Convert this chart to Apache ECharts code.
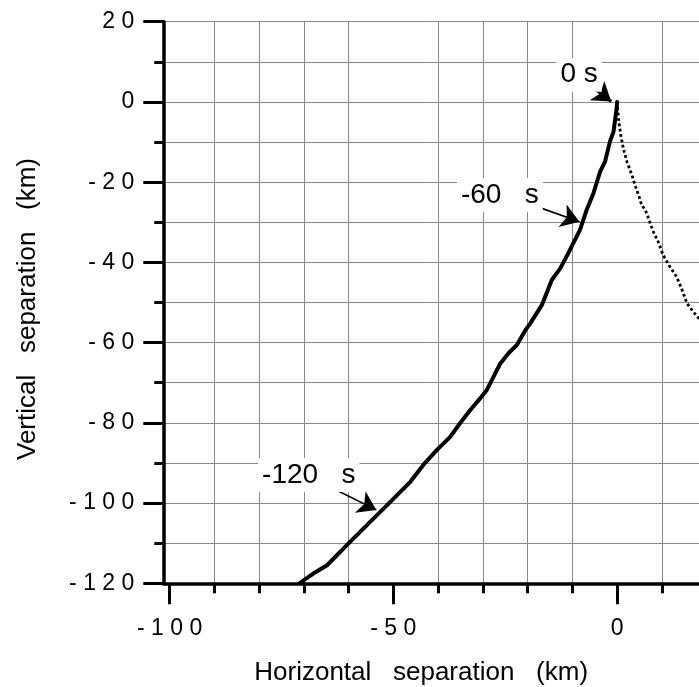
<!DOCTYPE html>
<html><head><meta charset="utf-8">
<script src="https://cdn.jsdelivr.net/npm/echarts@6/dist/echarts.min.js"></script>
<style>html,body{margin:0;padding:0;background:#fff}#c{width:699px;height:687px}</style>
</head><body><div id="c"></div>
<script>
// ---- data ----
const solidX = [-71.0,-67.8,-64.8,-60.4,-55.9,-51.4,-46.2,-43.3,-40.3,-37.3,-35.1,-32.8,-30.6,-29.1,-27.6,-26.1,-24.3,-22.4,-20.5,-19.4,-16.8,-14.6,-12.7,-10.9,-8.3,-6.8,-5.3,-3.8,-2.7,-1.6,-0.8,-0.4,-0.1,0];
const solidY = [-120.0,-117.5,-115.5,-110.5,-105.5,-100.5,-94.7,-90.5,-86.8,-83.5,-80.1,-76.8,-73.9,-71.8,-68.5,-65.2,-62.7,-60.6,-56.9,-55.2,-50.6,-44.4,-41.5,-37.7,-31.9,-26.9,-22.8,-17.4,-14.9,-9.9,-7.4,-4.1,-1.6,0];
const dottedX = [0,0.3,0.8,1.4,2.2,3.3,4.0,4.8,5.5,6.3,7.0,8.1,9.2,10.3,11.8,13.3,14.4,15.6,17.0,18.2,20.0];
const dottedY = [0,-4.1,-8.2,-11.6,-14.9,-18.2,-20.7,-23.2,-25.7,-26.9,-29.0,-32.4,-34.9,-38.2,-41.1,-43.6,-46.5,-50.2,-52.3,-53.9,-56.0];
const xRange = [-101.4, 18.3];
const yRange = [-120, 20];
const xMajorTicks = [-100, -50, 0];
const xMinorTicks = [-90, -80, -70, -60, -40, -30, -20, -10, 10];
const annoText = ['0 s', '-60   s', '-120   s'];
const annoX = [-8.5, -26.2, -68.9];
const annoY = [6.8, -23.2, -93.0];
const arrowFromX = [-4.7, -17.9, -63.0];
const arrowFromY = [3.0, -26.1, -96.6];
const arrowToX = [-1.3, -8.4, -53.8];
const arrowToY = [0.1, -29.9, -101.7];
const xTitle = 'Horizontal   separation   (km)';
const yTitle = 'Vertical   separation   (km)';

// ---- chart ----
const FONT = 'Liberation Sans, Arial, sans-serif';
const spaced = v => String(v).split('').join(' ');
const zip = (a, b) => a.map((v, i) => [v, b[i]]);
const chart = echarts.init(document.getElementById('c'), null, {renderer: 'canvas'});
const axisBase = {
  type: 'value', min: xRange[0], max: xRange[1], position: 'bottom'
};
chart.setOption({
  animation: false,
  backgroundColor: '#fff',
  grid: {left: 163.3, top: 21.7, bottom: 103.7, right: 0, containLabel: false, outerBoundsMode: 'none'},
  xAxis: [
    Object.assign({}, axisBase, {
      splitNumber: 12,
      axisLine: {show: true, onZero: false, lineStyle: {color: '#000', width: 3.5}},
      axisTick: {show: true, customValues: xMinorTicks, length: 10, lineStyle: {color: '#000', width: 3}},
      axisLabel: {show: false},
      splitLine: {show: true, lineStyle: {color: '#888', width: 1}}
    }),
    Object.assign({}, axisBase, {
      axisLine: {show: false, onZero: false},
      axisTick: {show: true, customValues: xMajorTicks, length: 21, lineStyle: {color: '#000', width: 3}},
      axisLabel: {show: true, customValues: xMajorTicks, formatter: spaced, margin: 34,
        fontSize: 23, fontFamily: FONT, color: '#000'},
      splitLine: {show: false},
      name: xTitle, nameLocation: 'middle', nameGap: 77,
      nameTextStyle: {fontSize: 26, fontFamily: FONT, color: '#000', padding: [0, 20, 0, 0]}
    })
  ],
  yAxis: [
    {
      type: 'value', min: yRange[0], max: yRange[1], interval: 10, position: 'left',
      axisLine: {show: false, onZero: false},
      axisTick: {show: true, length: 9, lineStyle: {color: '#000', width: 3}},
      axisLabel: {show: false},
      splitLine: {show: true, lineStyle: {color: '#888', width: 1}}
    },
    {
      type: 'value', min: yRange[0], max: yRange[1], interval: 20, position: 'left',
      axisLine: {show: true, onZero: false, lineStyle: {color: '#000', width: 3.5}},
      axisTick: {show: true, length: 20, lineStyle: {color: '#000', width: 3}},
      axisLabel: {show: true, formatter: spaced, margin: 29, fontSize: 23, fontFamily: FONT, color: '#000'},
      splitLine: {show: false},
      name: yTitle, nameLocation: 'middle', nameGap: 122,
      nameTextStyle: {fontSize: 26, fontFamily: FONT, color: '#000', padding: [0, 13, 0, 0]}
    }
  ],
  series: [
    {
      type: 'line', xAxisIndex: 0, yAxisIndex: 0, data: zip(dottedX, dottedY),
      showSymbol: false, symbol: 'none', silent: true,
      lineStyle: {color: '#000', width: 2.8, type: [2.8, 2.6], cap: 'butt'}
    },
    {
      type: 'line', xAxisIndex: 0, yAxisIndex: 0, data: zip(solidX, solidY),
      showSymbol: false, symbol: 'none', silent: true,
      lineStyle: {color: '#000', width: 4, join: 'round', cap: 'round'},
      markLine: {
        silent: true, symbol: ['none', 'arrow'], symbolSize: 18,
        label: {show: false},
        lineStyle: {color: '#000', width: 1.5, type: 'solid'},
        data: arrowFromX.map((fx, i) => [
          {coord: [fx, arrowFromY[i]], lineStyle: {color: '#000', width: i === 0 ? 3 : 1.6, type: 'solid'}},
          {coord: [arrowToX[i], arrowToY[i]]}
        ])
      },
      markPoint: {
        silent: true, symbol: 'circle', symbolSize: 1,
        itemStyle: {color: 'rgba(0,0,0,0)'},
        label: {show: true, position: 'inside', formatter: p => p.name, color: '#000',
          fontSize: 28, fontFamily: FONT, backgroundColor: '#fff', padding: [3, 4]},
        data: annoText.map((t, i) => ({name: t, coord: [annoX[i], annoY[i]]}))
      }
    }
  ]
});
</script>
</body></html>
